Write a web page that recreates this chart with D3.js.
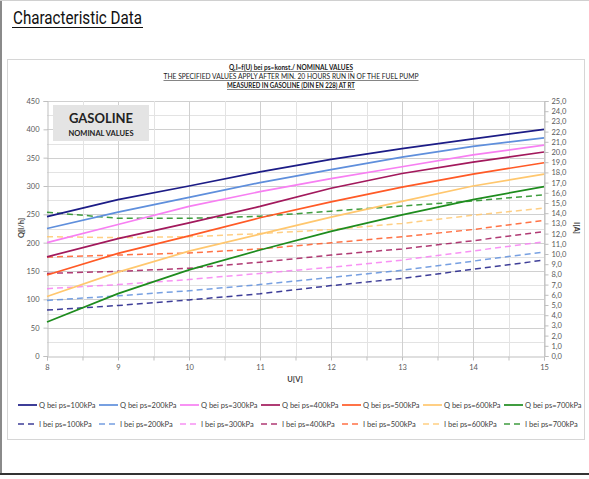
<!DOCTYPE html>
<html><head><meta charset="utf-8">
<script src="https://cdn.jsdelivr.net/npm/d3@7/dist/d3.min.js"></script>
<style>body{margin:0;background:#fff}svg{display:block}</style>
</head><body>
<svg id="c" width="589" height="479"></svg>
<script>
const voltages = [8, 9, 10, 11, 12, 13, 14, 15];
const pressures = ["100kPa", "200kPa", "300kPa", "400kPa", "500kPa", "600kPa", "700kPa"];
const colors = ["#1c1c86", "#5f8fdc", "#f77ff2", "#a2195c", "#ff5a26", "#ffc76e", "#1e8c1e"];
// Flow Q [l/h] (left axis)
const q100 = [246, 276, 300, 325, 347, 366, 383, 400];
const q200 = [225, 254, 280, 306, 329, 351, 370, 385];
const q300 = [200, 232, 264, 290, 313, 334, 355, 372];
const q400 = [175, 207, 235, 264, 296, 322, 342, 360];
const q500 = [143, 181, 212, 244, 272, 298, 321, 341];
const q600 = [105, 148, 185, 215, 245, 273, 300, 321];
const q700 = [60, 110, 152, 187, 220, 249, 276, 299];
// Current I [A] (right axis)
const i100 = [4.5, 4.95, 5.5, 6.1, 6.9, 7.6, 8.5, 9.4];
const i200 = [5.45, 5.9, 6.4, 7.0, 7.7, 8.4, 9.3, 10.2];
const i300 = [6.6, 7.0, 7.5, 8.1, 8.7, 9.4, 10.3, 11.2];
const i400 = [8.1, 8.3, 8.6, 9.2, 9.9, 10.5, 11.3, 12.2];
const i500 = [9.7, 9.9, 10.1, 10.5, 11.1, 11.7, 12.4, 13.3];
const i600 = [11.7, 11.6, 11.7, 12.0, 12.4, 13.0, 13.8, 14.5];
const i700 = [14.1, 13.5, 13.5, 13.7, 14.2, 14.7, 15.2, 15.8];
const leftTicks = [0, 50, 100, 150, 200, 250, 300, 350, 400, 450];
const rightTicks = d3.range(0, 26, 1);
const xTicks = [8, 9, 10, 11, 12, 13, 14, 15];

const qSeries = [q100, q200, q300, q400, q500, q600, q700];
const iSeries = [i100, i200, i300, i400, i500, i600, i700];

const svg = d3.select("#c");
const FONT = "Lato, 'Open Sans', sans-serif";

// outer frame
svg.append("line").attr("x1", 1).attr("x2", 1).attr("y1", 0).attr("y2", 475).attr("stroke", "#8a8a8a").attr("stroke-width", 2);
svg.append("line").attr("x1", 0).attr("x2", 589).attr("y1", 0.5).attr("y2", 0.5).attr("stroke", "#d0d0d0");
svg.append("line").attr("x1", 0).attr("x2", 589).attr("y1", 474).attr("y2", 474).attr("stroke", "#333").attr("stroke-width", 2);

// page title
svg.append("text").attr("x", 13).attr("y", 24).text("Characteristic Data")
  .attr("font-family", "Roboto, sans-serif").attr("font-size", 18).attr("fill", "#111")
  .attr("textLength", 129).attr("lengthAdjust", "spacingAndGlyphs");
svg.append("line").attr("x1", 12).attr("x2", 143).attr("y1", 27.5).attr("y2", 27.5).attr("stroke", "#111").attr("stroke-width", 1);

// chart frame
svg.append("rect").attr("x", 7.5).attr("y", 59.5).attr("width", 577).attr("height", 380)
  .attr("fill", "#fff").attr("stroke", "#d6d6d6");

// header texts
const hdr = [
  {t: "Q,I=f(U) bei ps=konst./ NOMINAL VALUES", y: 70, bold: true, w: 124},
  {t: "THE SPECIFIED VALUES APPLY AFTER MIN. 20 HOURS RUN IN OF THE FUEL PUMP", y: 79, bold: false, w: 255},
  {t: "MEASURED IN GASOLINE (DIN EN 228) AT RT", y: 88, bold: true, w: 128}
];
hdr.forEach(h => {
  svg.append("text").attr("x", 291).attr("y", h.y).attr("text-anchor", "middle").text(h.t)
    .attr("font-family", FONT).attr("font-size", 7).attr("font-weight", h.bold ? "bold" : "normal")
    .attr("fill", "#222").attr("textLength", h.w).attr("lengthAdjust", "spacingAndGlyphs");
  svg.append("line").attr("x1", 291 - h.w / 2).attr("x2", 291 + h.w / 2).attr("y1", h.y + 1.5).attr("y2", h.y + 1.5)
    .attr("stroke", "#333").attr("stroke-width", 0.6);
});

const x = d3.scaleLinear().domain([8, 15]).range([47, 544]);
const yL = d3.scaleLinear().domain([0, 450]).range([356, 101]);
const yR = d3.scaleLinear().domain([0, 25]).range([356, 101]);

// grid
const g = svg.append("g");
g.selectAll(".hg").data(d3.range(25, 451, 25)).join("line")
  .attr("x1", 47).attr("x2", 544).attr("y1", d => Math.round(yL(d)) + 0.5).attr("y2", d => Math.round(yL(d)) + 0.5)
  .attr("stroke", d => d % 50 === 0 ? "#d0d0d0" : "#e3e3e3");
g.selectAll(".vg").data(d3.range(8.5, 15.01, 0.5)).join("line")
  .attr("y1", 101).attr("y2", 356).attr("x1", d => Math.round(x(d)) + 0.5).attr("x2", d => Math.round(x(d)) + 0.5)
  .attr("stroke", d => d % 1 === 0 ? "#d0d0d0" : "#e3e3e3");

// axes
function styleAxis(sel) {
  sel.selectAll("path").attr("stroke", "#bfbfbf");
  sel.selectAll("line").attr("stroke", "#bfbfbf");
  sel.selectAll("text").attr("fill", "#595959").attr("font-family", FONT).attr("font-size", 7.5);
}
const ax = svg.append("g").attr("transform", "translate(0,356.5)")
  .call(d3.axisBottom(x).tickValues(d3.range(8, 15.01, 0.5)).tickSize(4).tickFormat(d => d % 1 === 0 ? d : ""));
styleAxis(ax);
ax.selectAll("text").attr("dy", "0.9em");
const al = svg.append("g").attr("transform", "translate(47.5,0)")
  .call(d3.axisLeft(yL).tickValues(leftTicks).tickSize(4).tickPadding(4));
styleAxis(al);
const ar = svg.append("g").attr("transform", "translate(544.5,0)")
  .call(d3.axisRight(yR).tickValues(rightTicks).tickSize(4).tickPadding(3).tickFormat(d => d3.format(".1f")(d).replace(".", ",")));
styleAxis(ar);

// axis titles
svg.append("text").attr("transform", "translate(24,228) rotate(-90)").attr("text-anchor", "middle").text("Q[l/h]")
  .attr("font-family", FONT).attr("font-size", 7.5).attr("font-weight", "bold").attr("fill", "#404040");
svg.append("text").attr("x", 295).attr("y", 382).attr("text-anchor", "middle").text("U[V]")
  .attr("font-family", FONT).attr("font-size", 7.5).attr("font-weight", "bold").attr("fill", "#404040");
svg.append("text").attr("transform", "translate(574,228) rotate(90)").attr("text-anchor", "middle").text("I[A]")
  .attr("font-family", FONT).attr("font-size", 7.5).attr("font-weight", "bold").attr("fill", "#404040");

// Gasoline box
svg.append("rect").attr("x", 53).attr("y", 105).attr("width", 96).attr("height", 36).attr("fill", "#e4e4e4");
svg.append("text").attr("x", 101).attr("y", 123).attr("text-anchor", "middle").text("GASOLINE")
  .attr("font-family", FONT).attr("font-size", 13).attr("font-weight", "bold").attr("fill", "#222");
svg.append("text").attr("x", 101).attr("y", 135.5).attr("text-anchor", "middle").text("NOMINAL VALUES")
  .attr("font-family", FONT).attr("font-size", 7.5).attr("font-weight", "bold").attr("fill", "#222");

// lines
const lineQ = d3.line().x((d, i) => x(voltages[i])).y(d => yL(d));
const lineI = d3.line().x((d, i) => x(voltages[i])).y(d => yR(d));
iSeries.forEach((s, k) => {
  svg.append("path").datum(s).attr("d", lineI).attr("fill", "none").attr("stroke", colors[k])
    .attr("stroke-width", 1.5).attr("stroke-dasharray", "6,4").attr("opacity", 0.85);
});
qSeries.forEach((s, k) => {
  svg.append("path").datum(s).attr("d", lineQ).attr("fill", "none").attr("stroke", colors[k]).attr("stroke-width", 1.7);
});

// legend
pressures.forEach((p, k) => {
  const lx = 18 + k * 81;
  [0, 1].forEach(r => {
    const ly = 405 + r * 19;
    svg.append("line").attr("x1", lx).attr("x2", lx + 19).attr("y1", ly).attr("y2", ly)
      .attr("stroke", colors[k]).attr("stroke-width", 1.7)
      .attr("stroke-dasharray", r ? "6,4" : null).attr("opacity", r ? 0.85 : 1);
    svg.append("text").attr("x", lx + 21).attr("y", ly + 2.5).text((r ? "I  bei ps=" : "Q  bei ps=") + p)
      .attr("font-family", FONT).attr("font-size", 7.5).attr("fill", "#404040");
  });
});
</script>
</body></html>
